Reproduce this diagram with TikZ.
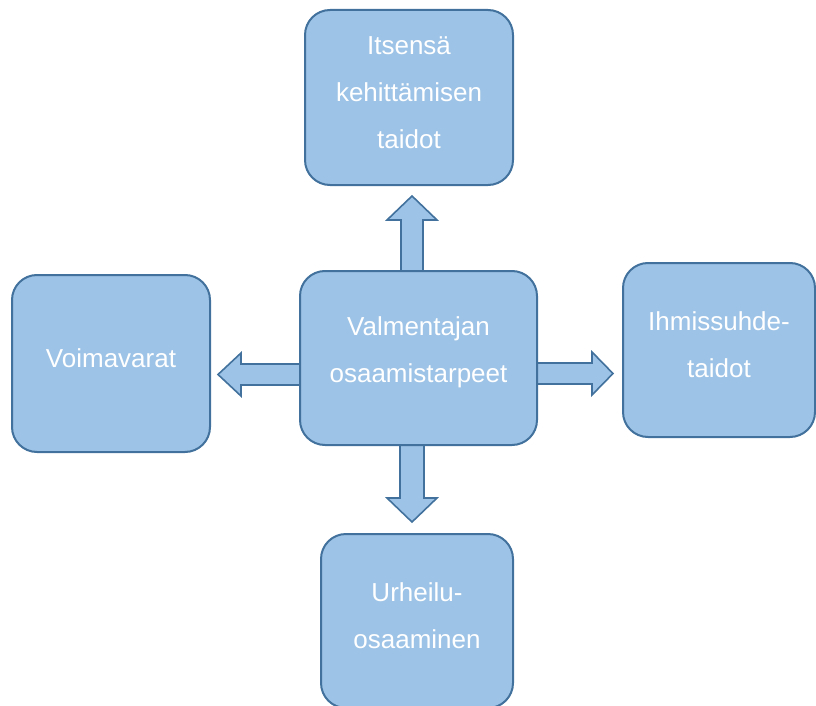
\documentclass[tikz,border=0pt]{standalone}
\usepackage{fontspec}
\setmainfont{Liberation Sans}
\usetikzlibrary{calc,backgrounds}
\definecolor{boxfill}{HTML}{9DC3E6}
\definecolor{boxline}{HTML}{41719C}
\tikzset{
  box/.style={draw=boxline, fill=boxfill, line width=2pt, rounded corners=25pt,
    text=white, align=center, font=\fontsize{26}{47}\selectfont, inner sep=0pt,
    text depth=10pt},
  fatarrow/.style={draw=boxline, fill=boxfill, line width=1.6pt, line join=miter}
}
\begin{document}
\begin{tikzpicture}[x=1pt,y=-1pt]
\useasboundingbox (0,0) rectangle (816,706);
\begin{scope}
\clip (0,0) rectangle (816,706);
% nodes
\node[box, minimum width=237pt, minimum height=174pt, text depth=16pt] (c) at (418.5,358) {Valmentajan\\osaamistarpeet};
\node[box, minimum width=208pt, minimum height=175pt] (t) at (409,97.5) {Itsensä\\kehittämisen\\taidot};
\node[box, minimum width=198pt, minimum height=177pt] (l) at (111,363.5) {Voimavarat};
\node[box, minimum width=192pt, minimum height=174pt] (r) at (719,350) {Ihmissuhde-\\taidot};
\node[box, minimum width=192pt, minimum height=174pt] (b) at (417,621) {Urheilu-\\osaaminen};
% block arrows from the centre box towards the outer boxes
\begin{scope}[on background layer]
\draw[fatarrow] ($(c.north)+(-17.5,8)$) -- ++(0,-58) -- ++(-14,0) -- ++(25,-24)
  -- ++(25,24) -- ++(-14,0) -- ++(0,58) -- cycle;
\draw[fatarrow] ($(c.west)+(8,6)$) -- ++(-66,0) -- ++(0,-11) -- ++(-23,21.5)
  -- ++(23,21.5) -- ++(0,-11) -- ++(66,0) -- cycle;
\draw[fatarrow] ($(c.east)+(-8,5)$) -- ++(62,0) -- ++(0,-11) -- ++(21,21.5)
  -- ++(-21,21.5) -- ++(0,-11) -- ++(-62,0) -- cycle;
\draw[fatarrow] ($(c.south)+(-18.5,-8)$) -- ++(0,60) -- ++(-13,0) -- ++(25,24)
  -- ++(25,-24) -- ++(-13,0) -- ++(0,-60) -- cycle;
\end{scope}
\end{scope}
\end{tikzpicture}
\end{document}
